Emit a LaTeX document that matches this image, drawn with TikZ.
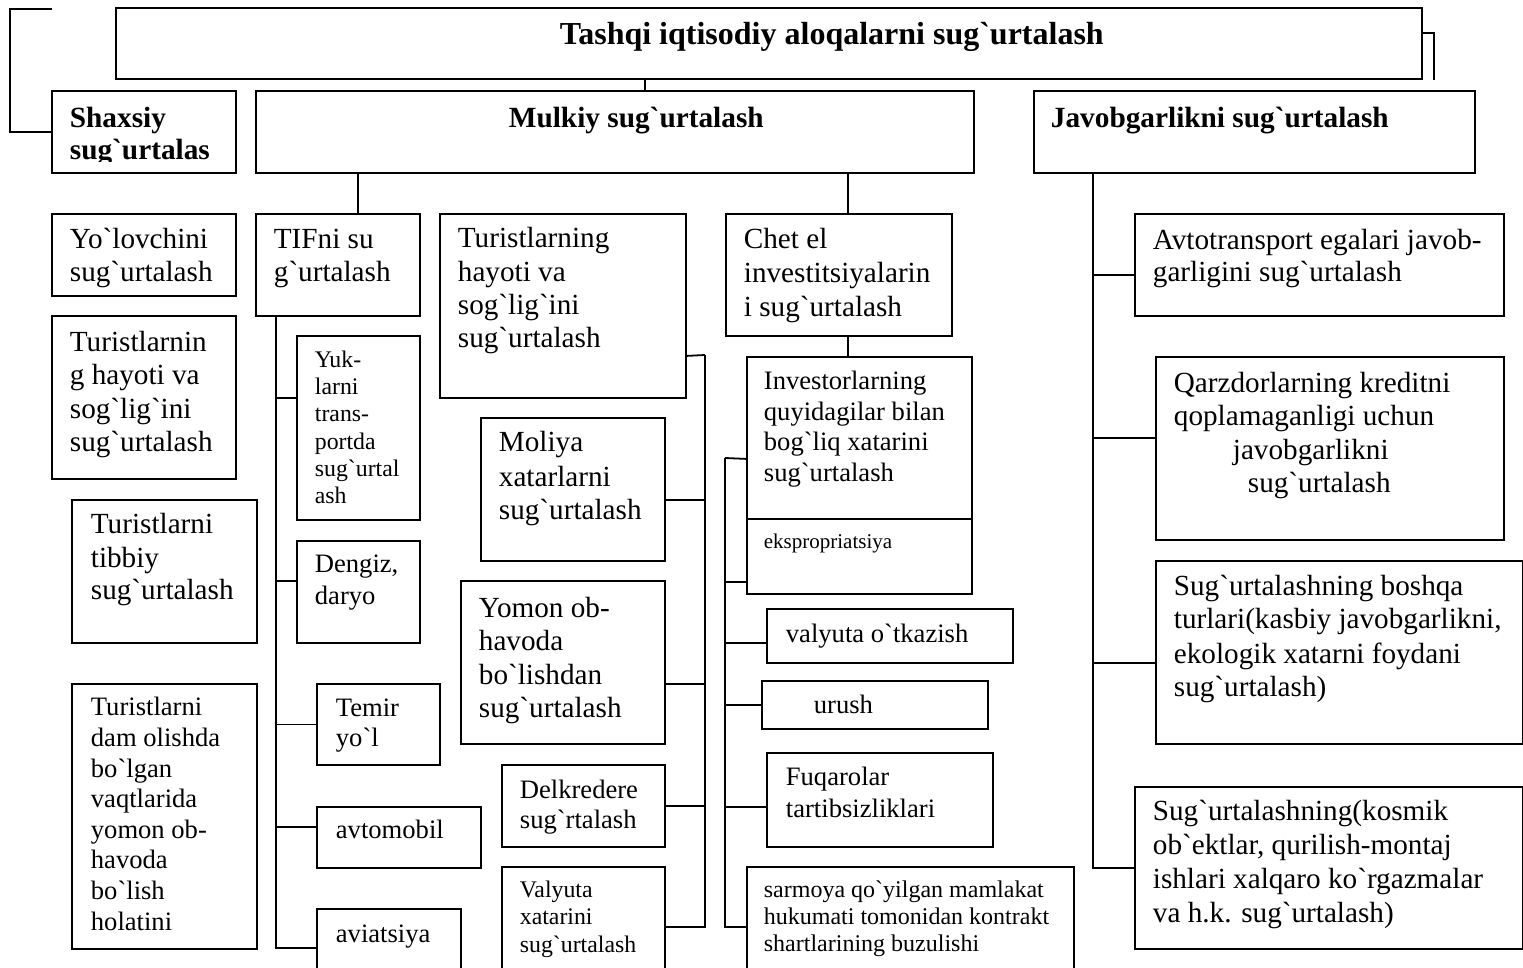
\documentclass[tikz,border=0pt]{standalone}
\usepackage{fontspec}
\setmainfont{Liberation Serif}[Ligatures=TeXOff]

\newcommand{\fbig}[1]{\fontsize{14.6}{#1}\selectfont}
\newcommand{\fmid}[1]{\fontsize{13.3}{#1}\selectfont}
\newcommand{\fsml}[1]{\fontsize{11.9}{#1}\selectfont}
\newcommand{\fhead}[1]{\fontsize{14.65}{#1}\selectfont\bfseries}

\begin{document}
\begin{tikzpicture}[x=0.5pt, y=-0.5pt, line width=0.9pt]

    \tikzstyle{frame}=[draw, rectangle, inner sep=0pt, anchor=north west]
    % base of the last line of the text
    \tikzstyle{lbl}=[anchor=base west, align=left, inner sep=0pt]

    \useasboundingbox (0,0) rectangle (1523,968);

    % boxes
    \node[frame, minimum width=653pt,   minimum height=35.5pt]  (title) at (115,7)    {};
    \node[frame, minimum width=92pt,    minimum height=41pt]    (shax)  at (51,90)    {};
    \node[frame, minimum width=359pt,   minimum height=41pt]    (mulk)  at (255,90)   {};
    \node[frame, minimum width=220.5pt, minimum height=41pt]    (javob) at (1033,90)  {};
    \node[frame, minimum width=92pt,    minimum height=41pt]    (yol)   at (51,213)   {};
    \node[frame, minimum width=82pt,    minimum height=51pt]    (tif)   at (255,213)  {};
    \node[frame, minimum width=123pt,   minimum height=92pt]    (turh)  at (439,213)  {};
    \node[frame, minimum width=113pt,   minimum height=61pt]    (chet)  at (725,213)  {};
    \node[frame, minimum width=184.5pt, minimum height=51pt]    (avto)  at (1134,213) {};
    \node[frame, minimum width=92pt,    minimum height=81.5pt]  (turn)  at (51,315)   {};
    \node[frame, minimum width=61.5pt,  minimum height=92pt]    (yuk)   at (296,335)  {};
    \node[frame, minimum width=112.5pt, minimum height=118.5pt] (inv)   at (746,356)  {};
    \node[frame, minimum width=174pt,   minimum height=91.5pt]  (qarz)  at (1155,356) {};
    \node[frame, minimum width=92pt,    minimum height=71.5pt]  (mol)   at (480,417)  {};
    \node[frame, minimum width=92.5pt,  minimum height=71.5pt]  (tib)   at (71,499)   {};
    \node[frame, minimum width=61.5pt,  minimum height=51pt]    (deng)  at (296,540)  {};
    \node[frame, minimum width=102pt,   minimum height=81.5pt]  (yom)   at (460,580)  {};
    \node[frame, minimum width=183.5pt, minimum height=91.5pt]  (bosh)  at (1155,560) {};
    \node[frame, minimum width=123pt,   minimum height=27pt]    (valt)  at (766,608)  {};
    \node[frame, minimum width=92.5pt,  minimum height=132.5pt] (dam)   at (71,683)   {};
    \node[frame, minimum width=61.5pt,  minimum height=40.5pt]  (tem)   at (316,683)  {};
    \node[frame, minimum width=113pt,   minimum height=24pt]    (uru)   at (761,680)  {};
    \node[frame, minimum width=113pt,   minimum height=47pt]    (fuq)   at (766,752)  {};
    \node[frame, minimum width=81.5pt,  minimum height=41pt]    (del)   at (501,764)  {};
    \node[frame, minimum width=194pt,   minimum height=81pt]    (kos)   at (1134,786) {};
    \node[frame, minimum width=82pt,    minimum height=30.5pt]  (avm)   at (316,806)  {};
    \node[frame, minimum width=72pt,    minimum height=36pt]    (avi)   at (316,908)  {};
    \node[frame, minimum width=81.5pt,  minimum height=57pt]    (valx)  at (501,866)  {};
    \node[frame, minimum width=163.5pt, minimum height=57pt]    (sar)   at (746,866)  {};

    \draw ([yshift=-81.5pt]inv.north west) -- ([yshift=-81.5pt]inv.north east);

    % texts
    \node[lbl, font={\fontsize{16}{18}\selectfont\bfseries}] (title-t) at (559,45) {Tashqi iqtisodiy aloqalarni sug`urtalash};
    \node[lbl, font=\fhead{16}] (mulk-t)  at (508,128)  {Mulkiy sug`urtalash};
    \node[lbl, font=\fhead{16}] (javob-t) at (1050,128) {Javobgarlikni sug`urtalash};
    \begin{scope}
        \clip (51,90) rectangle (235,162);
        \node[lbl, font=\fhead{16}] (shax-t) at (69,160) {Shaxsiy\\sug`urtalas};
    \end{scope}

    \node[lbl, font=\fbig{16.5}] (yol-t)  at (69,282)   {Yo`lovchini\\sug`urtalash};
    \node[lbl, font=\fbig{16.5}] (tif-t)  at (273,282)  {TIFni su\\g`urtalash};
    \node[lbl, font=\fbig{16.7}] (turh-t) at (457,348)  {Turistlarning\\hayoti va\\sog`lig`ini\\sug`urtalash};
    \node[lbl, font=\fbig{17}]   (chet-t) at (743,317)  {Chet el\\investitsiyalarin\\i sug`urtalash};
    \node[lbl, font=\fbig{16}]   (avto-t) at (1152,282) {Avtotransport egalari javob-\\garligini sug`urtalash};
    \node[lbl, font=\fbig{16.8}] (turn-t) at (69,452)   {Turistlarnin\\g hayoti va\\sog`lig`ini\\sug`urtalash};
    \node[lbl, font=\fsml{13.7}] (yuk-t)  at (314,504)  {Yuk-\\larni\\trans-\\portda\\sug`urtal\\ash};
    \node[lbl, font=\fmid{15.5}] (inv-t)  at (763,482)  {Investorlarning\\quyidagilar bilan\\bog`liq xatarini\\sug`urtalash};
    \node[lbl, font=\fontsize{10.5}{12}\selectfont] (eks-t) at (763,549) {ekspropriatsiya};
    \node[lbl, font=\fbig{16.8}] (qarz-t) at (1173,493) {Qarzdorlarning kreditni\\qoplamaganligi uchun\\\hspace*{29.5pt}javobgarlikni\\\hspace*{37pt}sug`urtalash};
    \node[lbl, font=\fbig{17}]   (mol-t)  at (498,520)  {Moliya\\xatarlarni\\sug`urtalash};
    \node[lbl, font=\fbig{16.5}] (tib-t)  at (90,600)   {Turistlarni\\tibbiy\\sug`urtalash};
    \node[lbl, font=\fmid{16}]   (deng-t) at (314,604)  {Dengiz,\\daryo};
    \node[lbl, font=\fbig{16.8}] (yom-t)  at (478,718)  {Yomon ob-\\havoda\\bo`lishdan\\sug`urtalash};
    \node[lbl, font=\fbig{17}]   (bosh-t) at (1173,697) {Sug`urtalashning boshqa\\turlari(kasbiy javobgarlikni,\\ekologik xatarni foydani\\sug`urtalash)};
    \node[lbl, font=\fmid{16}]   (valt-t) at (785,642)  {valyuta o`tkazish};
    \node[lbl, font=\fmid{15.3}] (dam-t)  at (90,930)   {Turistlarni\\dam olishda\\bo`lgan\\vaqtlarida\\yomon ob-\\havoda\\bo`lish\\holatini};
    \node[lbl, font=\fmid{15.5}] (tem-t)  at (335,747)  {Temir\\yo`l};
    \node[lbl, font=\fmid{16}]   (uru-t)  at (813,713)  {urush};
    \node[lbl, font=\fmid{16}]   (fuq-t)  at (785,817)  {Fuqarolar\\tartibsizliklari};
    \node[lbl, font=\fmid{15}]   (del-t)  at (519,828)  {Delkredere\\sug`rtalash};
    \node[lbl, font=\fbig{17}]   (kos-t)  at (1152,922) {Sug`urtalashning(kosmik\\ob`ektlar, qurilish-montaj\\ishlari xalqaro ko`rgazmalar\\va h.k. sug`urtalash)};
    \node[lbl, font=\fmid{16}]   (avm-t)  at (335,838)  {avtomobil};
    \node[lbl, font=\fmid{16}]   (avi-t)  at (335,942)  {aviatsiya};
    \node[lbl, font=\fsml{13.7}] (valx-t) at (519,952)  {Valyuta\\xatarini\\sug`urtalash};
    \node[lbl, font={\fontsize{12}{13.4}\selectfont}] (sar-t) at (763,951) {sarmoya qo`yilgan mamlakat\\hukumati tomonidan kontrakt\\shartlarining buzulishi};

    % connectors
    \coordinate (lb1) at (52,9);
    \coordinate (lb2) at (10,9);
    \coordinate (rb)  at (1434,80);
    \coordinate (c1)  at (645,0);
    \coordinate (c2)  at (358,0);
    \coordinate (c3)  at (848,0);
    \coordinate (c4)  at (1093,0);
    \coordinate (c5)  at (276,0);
    \coordinate (c6)  at (705,355);
    \coordinate (c7)  at (725,458);

    \draw (shax.west) -| (lb2) -- (lb1);
    \draw ([yshift=5.25pt]title.east) -| (rb);
    \draw (title.south -| c1) -- (mulk.north -| c1);
    \draw (mulk.south -| c2)  -- (tif.north -| c2);
    \draw (mulk.south -| c3)  -- (chet.north -| c3);
    \draw (chet.south -| c3)  -- (inv.north -| c3);

    \foreach \n/\s in {yuk/15pt, deng/5.5pt, tem/0pt, avm/5.25pt}
        \draw (tif.south -| c5) |- ([yshift=\s]\n.west);
    \draw (tif.south -| c5) |- ([yshift=-20pt]avi.north west);

    \draw ([yshift=-25pt]turh.east) -- (c6);
    \foreach \n/\s in {mol/-5.25pt, yom/-10.75pt, del/0pt}
        \draw (c6) |- ([yshift=\s]\n.east);
    \draw (c6) |- ([yshift=-30.5pt]valx.north east);

    \draw ([yshift=8.25pt]inv.west) -- (c7);
    \draw (c7) |- ([yshift=6.5pt]inv.south west);
    \foreach \n/\s in {valt/-3.5pt, uru/0pt, fuq/-3.5pt}
        \draw (c7) |- ([yshift=\s]\n.west);
    \draw (c7) |- ([yshift=-30.5pt]sar.north west);

    \foreach \n/\s in {avto/-5pt, qarz/5.25pt, bosh/-5.25pt, kos/0pt}
        \draw (javob.south -| c4) |- ([yshift=\s]\n.west);

\end{tikzpicture}
\end{document}
